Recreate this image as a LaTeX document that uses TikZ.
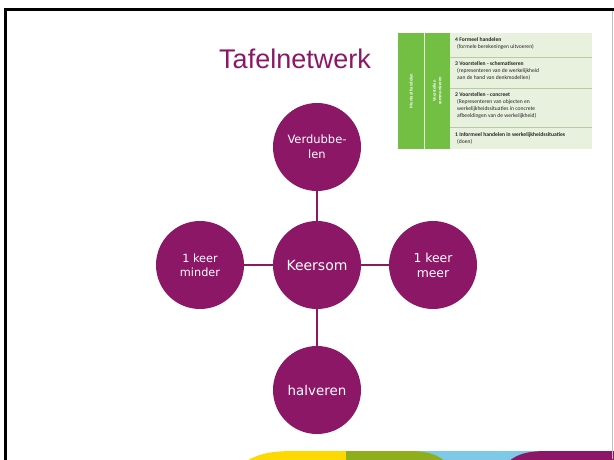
\documentclass[tikz,border=0pt]{standalone}
\usepackage{fontspec}
\setmainfont{DejaVu Sans}
\newfontfamily\titelfont{Liberation Sans}
\newfontfamily\tabelfont{Carlito}
\usepackage{tikz}
\usepackage{xcolor}
\usetikzlibrary{positioning}

\definecolor{paars}{HTML}{8C1766}
\definecolor{groen}{HTML}{72BF44}
\definecolor{lichtgroen}{HTML}{E7F1DE}
\definecolor{lijngroen}{HTML}{B5CCA2}
\definecolor{geel}{HTML}{FDD900}
\definecolor{olijf}{HTML}{8FAE1B}
\definecolor{blauw}{HTML}{7EC8E8}

\tikzset{
  bol/.style={circle, fill=paars, text=white, minimum size=88pt, inner sep=0pt, align=center},
  verbinding/.style={paars, line width=1.8pt},
  tabeltekst/.style={anchor=north west, inner sep=0pt, align=left, font=\tabelfont\fontsize{5.6}{7}\selectfont, text=black!85},
  zijtekst/.style={rotate=90, text=white, inner sep=0pt, align=center, font=\tabelfont\bfseries\fontsize{4.5}{5.5}\selectfont}
}

\begin{document}
\begin{tikzpicture}[x=1pt, y=-1pt]
            \useasboundingbox (0, 0) rectangle (614, 459);
            \fill[white] (0, 0) rectangle (614, 459);

            % kleurband onderaan
            \begin{scope}
            \clip (0, 0) rectangle (614, 459);
            \fill[blauw] (400, 451) rectangle (540, 462);
            \fill[geel] (245, 462) .. controls (262, 451) and (280, 451) .. (300, 451) -- (347, 451) -- (347, 462) -- cycle;
            \fill[olijf] (346, 451) -- (410, 451) .. controls (428, 451) and (438, 455) .. (446, 462) -- (346, 462) -- cycle;
            \fill[paars] (508, 462) .. controls (518, 453) and (530, 451) .. (548, 451) -- (614, 451) -- (614, 462) -- cycle;
            \end{scope}

            % kader
            \draw[black, line width=2.5pt] (5.5, 462) -- (5.5, 9.5) -- (614, 9.5);
            \draw[black!25, line width=1pt] (612.8, 11) -- (612.8, 459);

            % titel
            \node[anchor=base, inner sep=0pt, text=paars, font=\titelfont\fontsize{27}{30}\selectfont] (titel) at (295, 68) {Tafelnetwerk};

            % tabel met niveaus
            \fill[lichtgroen] (450, 33) rectangle (592, 149);
            \fill[groen] (398, 33) rectangle (450, 149);
            \draw[white!80!groen, line width=0.6pt] (424, 33) -- (424, 149);
            \draw[lijngroen, line width=0.8pt] (450, 57) -- (592, 57);
            \draw[lijngroen, line width=0.8pt] (450, 88) -- (592, 88);
            \draw[lijngroen, line width=0.8pt] (450, 127) -- (592, 127);
            \node[zijtekst] (mentaal) at (411, 91) {Mentaal handelen};
            \node[zijtekst] (voorstellen) at (437, 91) {Voorstellen\\communiceren};
            \node[tabeltekst] (niveau4) at (455, 37) {\textbf{4 Formeel handelen}\\\hspace{2pt}(formele berekeningen uitvoeren)};
            \node[tabeltekst] (niveau3) at (455, 61) {\textbf{3 Voorstellen - schematiseren}\\\hspace{2pt}(representeren van de werkelijkheid\\\hspace{2pt}aan de hand van denkmodellen)};
            \node[tabeltekst] (niveau2) at (455, 92) {\textbf{2 Voorstellen - concreet}\\\hspace{2pt}(Representeren van objecten en\\\hspace{2pt}werkelijkheidssituaties in concrete\\\hspace{2pt}afbeeldingen van de werkelijkheid)};
            \node[tabeltekst] (niveau1) at (455, 132) {\textbf{1 Informeel handelen in werkelijkheidssituaties}\\\hspace{2pt}(doen)};

            % netwerk
            \node[bol, font=\fontsize{14}{16}\selectfont] (keersom) at (317, 265) {Keersom};
            \node[bol, font=\fontsize{11.5}{15}\selectfont] (verdubbelen) at (317, 147) {Verdubbe-\\len};
            \node[bol, font=\fontsize{11.3}{14}\selectfont] (minder) at (200, 265) {1 keer\\minder};
            \node[bol, font=\fontsize{12.4}{15}\selectfont] (meer) at (433, 265) {1 keer\\meer};
            \node[bol, font=\fontsize{13.4}{16}\selectfont] (halveren) at (317, 390) {halveren};

            \draw[verbinding] (keersom) -- (verdubbelen);
            \draw[verbinding] (keersom) -- (minder);
            \draw[verbinding] (keersom) -- (meer);
            \draw[verbinding] (keersom) -- (halveren);
\end{tikzpicture}
\end{document}
